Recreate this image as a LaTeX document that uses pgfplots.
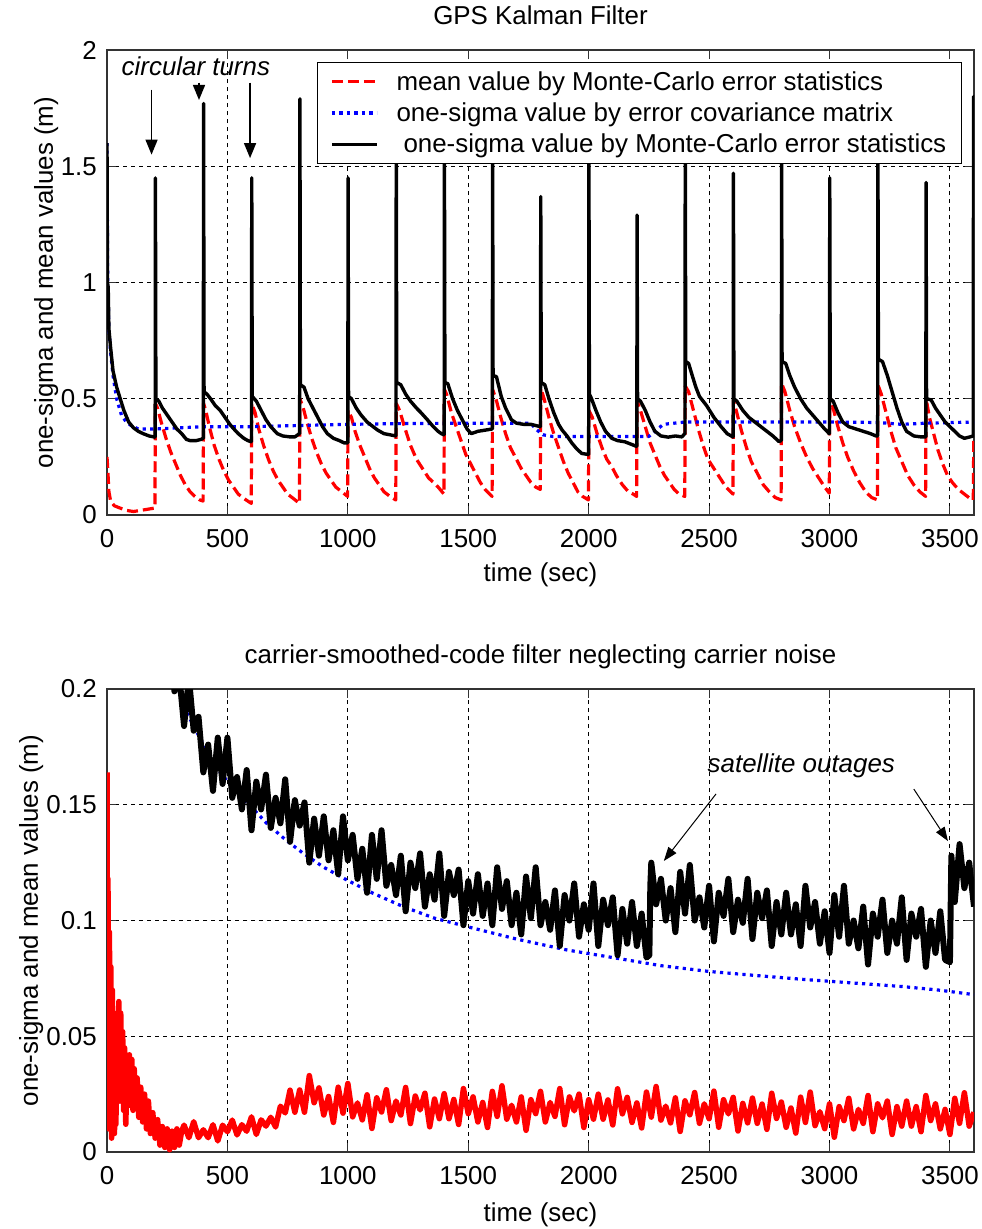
\documentclass[border=0pt]{standalone}
\usepackage{fontspec}
\setmainfont{Liberation Sans}
\usepackage{pgfplots}
\pgfplotsset{compat=1.18}
\usetikzlibrary{arrows.meta}
\definecolor{mred}{RGB}{255,0,0}
\definecolor{mblue}{RGB}{0,0,255}
\pgfplotsset{
  mstyle/.style={
    scale only axis, width=867bp,
    xmin=0, xmax=3600,
    xtick={0,500,1000,1500,2000,2500,3000,3500},
    xticklabels={0,500,1000,1500,2000,2500,3000,3500},
    font=\fontsize{26}{31}\selectfont,
    /pgf/number format/assume math mode=true,
    grid=major,
    major grid style={black, line width=0.9bp, dash pattern=on 4bp off 4bp},
    axis line style={black!80, line width=1.3bp},
    major tick length=9bp,
    tick style={black!80, line width=1.1bp},
    tick align=inside,
    xticklabel style={inner sep=0pt, anchor=north, yshift=-14bp},
    yticklabel style={inner sep=0pt, anchor=east, xshift=-10bp},
    xlabel style={inner sep=0pt, anchor=base},
    ylabel style={inner sep=0pt, anchor=base, rotate=0},
    title style={inner sep=0pt, anchor=base, at={(axis description cs:0.5,1.043)}},
    clip=true,
    scaled ticks=false,
  }
}
\begin{document}
\begin{tikzpicture}[x=1bp,y=1bp]
\path[use as bounding box] (0,0) rectangle (982,-1229);
% ---------------- top axis ----------------
\begin{axis}[mstyle,
  at={(107bp,-515bp)}, anchor=south west,
  height=465bp,
  ymin=0, ymax=2,
  ytick={0,0.5,1,1.5,2},
  yticklabels={0,0.5,1,1.5,2},
  title={GPS Kalman Filter},
  xlabel={time (sec)},
  xlabel style={at={(axis description cs:0.5,-0.144)}},
  ylabel={one-sigma and mean values (m)},
  ylabel style={at={(axis description cs:-0.0623,0.5)}},
  legend style={at={(axis description cs:0.986,0.974)}, anchor=north east,
    draw=black, line width=1.2bp, fill=white, inner xsep=13bp, inner ysep=7bp,
    row sep=7bp, column sep=16bp, nodes={inner sep=2bp}, cells={anchor=west},
    font=\fontsize{26}{31}\selectfont},
  legend image code/.code={\draw[#1] (0bp,0bp) -- (45bp,0bp);},
]
\addplot[mred, line width=3.2bp, dash pattern=on 11bp off 5bp, line join=round] coordinates {
(0,0.25) (3,0.2) (8,0.1) (15,0.06) (30,0.04) (54,0.03) (80,0.02) (110,0.015) (140,0.02) (170,0.025) (199,0.03)
(201,0.48) (210,0.46) (225,0.4) (245,0.33) (265,0.27) (285,0.22) (305,0.17) (325,0.13) (345,0.1) (365,0.08) (385,0.065) (399,0.06)
(401,0.48) (410,0.45) (425,0.38) (445,0.3) (465,0.24) (485,0.19) (505,0.15) (525,0.12) (545,0.09) (570,0.07) (599,0.05)
(601,0.48) (615,0.44) (630,0.37) (650,0.3) (670,0.24) (690,0.19) (710,0.15) (730,0.12) (750,0.09) (775,0.07) (799,0.05)
(801,0.5) (815,0.46) (830,0.4) (850,0.33) (870,0.27) (890,0.22) (910,0.18) (930,0.15) (950,0.12) (975,0.1) (999,0.08)
(1001,0.45) (1015,0.42) (1030,0.36) (1050,0.3) (1070,0.25) (1090,0.2) (1110,0.16) (1130,0.13) (1150,0.1) (1175,0.08) (1199,0.065)
(1201,0.48) (1215,0.45) (1235,0.38) (1260,0.3) (1285,0.24) (1310,0.2) (1335,0.16) (1355,0.14) (1375,0.12) (1399,0.09)
(1401,0.54) (1410,0.52) (1430,0.44) (1450,0.38) (1470,0.32) (1490,0.26) (1510,0.22) (1530,0.18) (1550,0.14) (1570,0.11) (1599,0.08)
(1601,0.54) (1615,0.5) (1635,0.42) (1655,0.35) (1675,0.29) (1700,0.24) (1720,0.2) (1740,0.17) (1760,0.14) (1780,0.12) (1799,0.11)
(1801,0.545) (1815,0.5) (1835,0.42) (1855,0.35) (1875,0.29) (1895,0.23) (1915,0.18) (1935,0.14) (1955,0.1) (1975,0.08) (1999,0.065)
(2001,0.45) (2015,0.42) (2035,0.35) (2055,0.29) (2075,0.24) (2095,0.21) (2115,0.17) (2140,0.13) (2165,0.1) (2185,0.09) (2199,0.08)
(2201,0.49) (2215,0.45) (2235,0.38) (2255,0.31) (2275,0.26) (2295,0.21) (2315,0.17) (2335,0.14) (2355,0.11) (2375,0.09) (2399,0.08)
(2401,0.555) (2415,0.53) (2435,0.45) (2455,0.37) (2475,0.3) (2495,0.24) (2520,0.2) (2545,0.16) (2570,0.12) (2599,0.09)
(2601,0.495) (2615,0.44) (2635,0.36) (2655,0.29) (2675,0.23) (2700,0.18) (2725,0.13) (2750,0.1) (2775,0.075) (2799,0.065)
(2801,0.566) (2815,0.53) (2835,0.45) (2855,0.38) (2880,0.31) (2905,0.25) (2930,0.2) (2955,0.16) (2980,0.12) (2999,0.094)
(3001,0.51) (3015,0.46) (3035,0.38) (3055,0.31) (3075,0.25) (3100,0.19) (3125,0.14) (3150,0.1) (3175,0.075) (3199,0.065)
(3201,0.56) (3215,0.52) (3235,0.44) (3255,0.36) (3275,0.29) (3300,0.23) (3325,0.17) (3350,0.13) (3375,0.1) (3399,0.08)
(3401,0.5) (3415,0.42) (3430,0.36) (3450,0.28) (3470,0.22) (3490,0.17) (3510,0.14) (3535,0.11) (3560,0.09) (3585,0.07) (3597,0.065) (3599,0.33) (3600,0.33)
};
\addlegendentry{mean value by Monte-Carlo error statistics}
\addplot[mblue, line width=3.2bp, dash pattern=on 3.2bp off 4.3bp, line join=round] coordinates {
(0,1.6) (3,1.0) (8,0.8) (15,0.7) (25,0.6) (40,0.5) (60,0.43) (80,0.4) (100,0.385) (130,0.37) (200,0.37) (300,0.375) (400,0.38) (600,0.38) (800,0.385) (1000,0.39) (1200,0.393) (1500,0.395) (1760,0.395) (1780,0.37) (1810,0.345) (1850,0.338) (2250,0.338) (2275,0.36) (2310,0.39) (2400,0.4) (2600,0.4) (3000,0.4) (3200,0.398) (3300,0.39) (3400,0.395) (3600,0.4)
};
\addlegendentry{one-sigma value by error covariance matrix}
\addplot[black, line width=3.4bp, line join=round] coordinates {
(0,1.6) (2,1.0) (5,0.98) (8,0.8) (15,0.72) (25,0.62) (40,0.55) (55,0.5) (70,0.45) (90,0.4) (110,0.375) (130,0.36) (150,0.35) (175,0.34) (199,0.335)
(200,0.335) (201,1.45) (203,0.5) (215,0.49) (230,0.46) (250,0.43) (270,0.40) (290,0.37) (310,0.35) (330,0.325) (345,0.32) (370,0.32) (390,0.325) (399,0.33)
(400,0.33) (401,1.77) (403,0.53) (415,0.52) (430,0.5) (450,0.47) (470,0.45) (490,0.42) (510,0.39) (527,0.37) (545,0.35) (568,0.33) (585,0.32) (599,0.315)
(600,0.315) (601,1.45) (603,0.51) (620,0.49) (640,0.45) (660,0.41) (680,0.38) (707,0.35) (730,0.34) (760,0.336) (780,0.336) (799,0.35)
(800,0.35) (801,1.79) (803,0.56) (818,0.55) (835,0.5) (855,0.46) (875,0.42) (895,0.38) (915,0.35) (940,0.33) (965,0.32) (985,0.31) (999,0.31)
(1000,0.31) (1001,1.45) (1003,0.51) (1015,0.5) (1035,0.46) (1055,0.43) (1080,0.4) (1105,0.38) (1124,0.365) (1150,0.35) (1175,0.345) (1199,0.34)
(1200,0.34) (1201,1.62) (1203,0.57) (1220,0.56) (1240,0.52) (1260,0.49) (1285,0.46) (1304,0.44) (1330,0.41) (1355,0.38) (1375,0.36) (1388,0.35) (1399,0.345)
(1400,0.345) (1401,1.6) (1403,0.57) (1415,0.565) (1435,0.5) (1455,0.45) (1475,0.41) (1495,0.37) (1512,0.35) (1540,0.36) (1570,0.365) (1599,0.37)
(1600,0.37) (1601,1.62) (1603,0.6) (1617,0.595) (1637,0.51) (1655,0.46) (1679,0.41) (1700,0.395) (1730,0.39) (1760,0.39) (1780,0.385) (1799,0.38)
(1800,0.38) (1801,1.37) (1803,0.57) (1818,0.56) (1835,0.5) (1855,0.44) (1875,0.39) (1890,0.365) (1910,0.34) (1930,0.31) (1950,0.285) (1971,0.265) (1999,0.26)
(2000,0.26) (2001,1.55) (2003,0.52) (2012,0.5) (2030,0.45) (2050,0.4) (2070,0.36) (2096,0.33) (2120,0.32) (2150,0.315) (2175,0.305) (2199,0.295)
(2200,0.295) (2201,1.29) (2203,0.5) (2215,0.49) (2235,0.45) (2255,0.4) (2275,0.36) (2300,0.34) (2330,0.335) (2360,0.34) (2387,0.336) (2399,0.35)
(2400,0.35) (2401,1.62) (2403,0.66) (2415,0.652) (2430,0.6) (2445,0.55) (2460,0.51) (2490,0.47) (2520,0.42) (2550,0.38) (2575,0.35) (2599,0.336)
(2600,0.336) (2601,1.47) (2603,0.5) (2615,0.49) (2640,0.45) (2665,0.42) (2690,0.4) (2715,0.38) (2740,0.36) (2765,0.34) (2790,0.316) (2799,0.32)
(2800,0.32) (2801,1.6) (2803,0.66) (2818,0.652) (2835,0.6) (2855,0.55) (2880,0.5) (2905,0.46) (2930,0.43) (2955,0.4) (2980,0.37) (2999,0.35)
(3000,0.35) (3001,1.45) (3003,0.5) (3015,0.49) (3035,0.44) (3055,0.4) (3080,0.38) (3110,0.37) (3140,0.36) (3170,0.35) (3193,0.34) (3199,0.34)
(3200,0.34) (3201,1.6) (3203,0.67) (3220,0.66) (3240,0.6) (3260,0.53) (3280,0.46) (3300,0.4) (3320,0.36) (3350,0.34) (3380,0.336) (3399,0.336)
(3400,0.336) (3401,1.43) (3403,0.5) (3422,0.495) (3440,0.46) (3460,0.43) (3480,0.4) (3500,0.38) (3520,0.36) (3540,0.34) (3560,0.33) (3580,0.335) (3597,0.34) (3598,1.8) (3600,1.8)
};
\addlegendentry{\hspace{7bp}one-sigma value by Monte-Carlo error statistics}
\node[font=\fontsize{26}{31}\selectfont\itshape, anchor=base] at (axis cs:369,1.89) {circular turns};
\draw[black, line width=1.4bp, -{Triangle[length=15bp,width=12bp]}] (axis cs:185,1.83) -- (axis cs:185,1.55);
\draw[black, line width=1.4bp, -{Triangle[length=15bp,width=12bp]}] (axis cs:382,1.86) -- (axis cs:382,1.785);
\draw[black, line width=1.4bp, -{Triangle[length=15bp,width=12bp]}] (axis cs:594,1.86) -- (axis cs:594,1.535);
\end{axis}
% ---------------- bottom axis ----------------
\begin{axis}[mstyle,
  at={(107bp,-1152bp)}, anchor=south west,
  height=463bp,
  ymin=0, ymax=0.2,
  ytick={0,0.05,0.1,0.15,0.2},
  yticklabels={0,0.05,0.1,0.15,0.2},
  title={carrier-smoothed-code filter neglecting carrier noise},
  xlabel={time (sec)},
  xlabel style={at={(axis description cs:0.5,-0.149)}},
  ylabel={one-sigma and mean values (m)},
  ylabel style={at={(axis description cs:-0.0796,0.5)}},
]
\addplot[mred, line width=5.5bp, line join=round] coordinates {
(0,0.164) (1,0.02) (4,0.118) (7,0.01) (10,0.095) (13,0.03) (16,0.08) (19,0.006) (22,0.07) (25,0.015) (28,0.06) (31,0.008) (34,0.045) (37,0.012) (41,0.055) (45,0.03) (49,0.065) (53,0.022) (57,0.06) (61,0.035) (65,0.052) (69,0.018) (73,0.045) (78,0.012) (83,0.035) (88,0.02) (93,0.042) (98,0.022) (103,0.04) (108,0.018) (113,0.036) (118,0.02) (125,0.032) (132,0.015) (140,0.028) (148,0.013) (156,0.025) (164,0.01) (172,0.022) (180,0.008) (190,0.017) (200,0.006) (210,0.014) (220,0.003) (230,0.011) (240,0.002) (250,0.01) (260,0.001) (270,0.009) (280,0.002) (290,0.01) (300,0.003) (310,0.009)
(320,0.0116) (340,0.0062) (360,0.0131) (380,0.0062) (400,0.0096) (420,0.0062) (440,0.0118) (460,0.0048) (480,0.0116) (500,0.0088) (520,0.0138) (540,0.0074) (560,0.0118) (580,0.009) (600,0.0152) (620,0.0076) (640,0.0139) (660,0.0112) (680,0.015) (700,0.0108) (720,0.0198) (740,0.0169)
(760,0.0267) (780,0.0172) (800,0.0268) (820,0.0172) (840,0.033) (860,0.0213) (880,0.0277) (900,0.016) (920,0.024) (940,0.0128) (960,0.028) (980,0.0168) (1000,0.0296) (1020,0.0152) (1040,0.0212) (1060,0.0139) (1080,0.0247) (1100,0.0102) (1120,0.0234) (1140,0.0173) (1160,0.0269) (1180,0.0136) (1200,0.022) (1220,0.016) (1240,0.0279) (1260,0.0123) (1280,0.0242) (1300,0.0182) (1320,0.0254) (1340,0.0109) (1360,0.0229) (1380,0.0144)
(1400,0.0252) (1420,0.0144) (1440,0.0227) (1460,0.0119) (1480,0.0274) (1500,0.0166) (1520,0.0238) (1540,0.013) (1560,0.0214) (1580,0.0106) (1600,0.0262) (1620,0.0154) (1640,0.0286) (1660,0.0142) (1680,0.0202) (1700,0.013) (1720,0.0238) (1740,0.0094) (1760,0.0226) (1780,0.0166) (1800,0.0262) (1820,0.013) (1840,0.0214) (1860,0.0154) (1880,0.0274) (1900,0.0118) (1920,0.0238) (1940,0.0178) (1960,0.025) (1980,0.0106) (2000,0.0226) (2020,0.0142)
(2040,0.025) (2060,0.0142) (2080,0.0225) (2100,0.0117) (2120,0.0273) (2140,0.0165) (2160,0.0236) (2180,0.0128) (2200,0.0212) (2220,0.0104) (2240,0.0259) (2260,0.0151) (2280,0.0283) (2300,0.0138) (2320,0.0198) (2340,0.0126) (2360,0.0234) (2380,0.0089) (2400,0.0221) (2420,0.0161) (2440,0.0257) (2460,0.0124) (2480,0.0208) (2500,0.0144) (2520,0.0263) (2540,0.0107) (2560,0.0226) (2580,0.0165) (2600,0.0236) (2620,0.0091) (2640,0.021) (2660,0.0126)
(2680,0.0233) (2700,0.0124) (2720,0.0207) (2740,0.0098) (2760,0.0254) (2780,0.0145) (2800,0.0216) (2820,0.0107) (2840,0.019) (2860,0.0082) (2880,0.0237) (2900,0.0128) (2920,0.0259) (2940,0.0114) (2960,0.0174) (2980,0.0101) (3000,0.0208) (3020,0.0064) (3040,0.0196) (3060,0.0136) (3080,0.0232) (3100,0.01) (3120,0.0184) (3140,0.0124) (3160,0.0244) (3180,0.0088) (3200,0.0208) (3220,0.0148) (3240,0.022) (3260,0.0076) (3280,0.0196) (3300,0.0112)
(3320,0.022) (3340,0.0112) (3360,0.0196) (3380,0.0088) (3400,0.0244) (3420,0.0136) (3440,0.0208) (3460,0.01) (3480,0.0184) (3500,0.0076) (3520,0.0232) (3540,0.0124) (3560,0.0256) (3580,0.0112) (3600,0.0172)
};
\addplot[mblue, line width=3.2bp, dash pattern=on 3.2bp off 4.3bp, line join=round] coordinates {
(280,0.205) (330,0.19) (380,0.18) (420,0.172) (470,0.164) (524,0.157) (600,0.149) (663,0.142) (740,0.135) (815,0.129) (900,0.123) (996,0.1175) (1100,0.112) (1230,0.106) (1360,0.101) (1494,0.0974) (1700,0.092) (1909,0.0873) (2100,0.084) (2300,0.0805) (2500,0.078) (2700,0.0762) (2900,0.0745) (3100,0.073) (3300,0.0715) (3450,0.070) (3600,0.068)
};
\addplot[black, line width=6bp, line join=round] coordinates {
(260,0.224) (280,0.199) (300,0.206) (320,0.184) (340,0.205) (360,0.182) (380,0.188) (400,0.164) (420,0.176) (440,0.156) (460,0.179) (480,0.159) (500,0.179) (520,0.153) (540,0.162) (560,0.148) (580,0.165) (600,0.139) (620,0.160) (640,0.148) (660,0.163) (680,0.140) (700,0.153) (720,0.142) (740,0.161) (760,0.134) (780,0.152) (800,0.141) (820,0.151) (840,0.125) (860,0.144) (880,0.128)
(900,0.145) (920,0.126) (940,0.139) (960,0.120) (980,0.145) (1000,0.126) (1020,0.137) (1040,0.118) (1060,0.131) (1080,0.112) (1100,0.137) (1120,0.118) (1140,0.139) (1160,0.115) (1180,0.124) (1200,0.111) (1220,0.128) (1240,0.104) (1260,0.125) (1280,0.114) (1300,0.129) (1320,0.106) (1340,0.120) (1360,0.109) (1380,0.129) (1400,0.102) (1420,0.121) (1440,0.111) (1460,0.122) (1480,0.098) (1500,0.117) (1520,0.103)
(1540,0.120) (1560,0.102) (1580,0.116) (1600,0.098) (1620,0.123) (1640,0.105) (1660,0.117) (1680,0.098) (1700,0.112) (1720,0.094) (1740,0.119) (1760,0.101) (1780,0.123) (1800,0.098) (1820,0.108) (1840,0.096) (1860,0.113) (1880,0.089) (1900,0.111) (1920,0.100) (1940,0.116) (1960,0.093) (1980,0.107) (2000,0.096) (2020,0.116) (2040,0.089) (2060,0.109) (2080,0.098) (2100,0.110) (2120,0.085) (2140,0.105) (2160,0.090)
(2180,0.108) (2200,0.089) (2220,0.103) (2240,0.084) (2252,0.085) (2256,0.115) (2260,0.125) (2280,0.107) (2300,0.118) (2320,0.100) (2340,0.114) (2360,0.095) (2380,0.121) (2400,0.103) (2420,0.124) (2440,0.100) (2460,0.110) (2480,0.097) (2500,0.115) (2520,0.091) (2540,0.112) (2560,0.102) (2580,0.118) (2600,0.095) (2620,0.109) (2640,0.099) (2660,0.118) (2680,0.092) (2700,0.112) (2720,0.101) (2740,0.113) (2760,0.089) (2780,0.108) (2800,0.094)
(2820,0.112) (2840,0.094) (2860,0.107) (2880,0.089) (2900,0.115) (2920,0.097) (2940,0.108) (2960,0.090) (2980,0.104) (3000,0.086) (3020,0.111) (3040,0.093) (3060,0.115) (3080,0.090) (3100,0.100) (3120,0.088) (3140,0.106) (3160,0.081) (3180,0.103) (3200,0.093) (3220,0.109) (3240,0.086) (3260,0.100) (3280,0.090) (3300,0.110) (3320,0.083) (3340,0.103) (3360,0.093) (3380,0.105) (3400,0.080) (3420,0.100) (3440,0.086)
(3460,0.104) (3480,0.083) (3500,0.082) (3506,0.128) (3520,0.108) (3540,0.133) (3560,0.114) (3580,0.125) (3600,0.106)
};
\node[font=\fontsize{26}{31}\selectfont\itshape, anchor=base] at (axis cs:2883,0.164) {satellite outages};
\draw[black, line width=1bp, -{Triangle[length=14bp,width=10bp]}] (axis cs:2529,0.1547) -- (axis cs:2312,0.1257);
\draw[black, line width=1bp, -{Triangle[length=14bp,width=10bp]}] (axis cs:3350,0.1568) -- (axis cs:3492,0.1343);
\end{axis}
\end{tikzpicture}
\end{document}
